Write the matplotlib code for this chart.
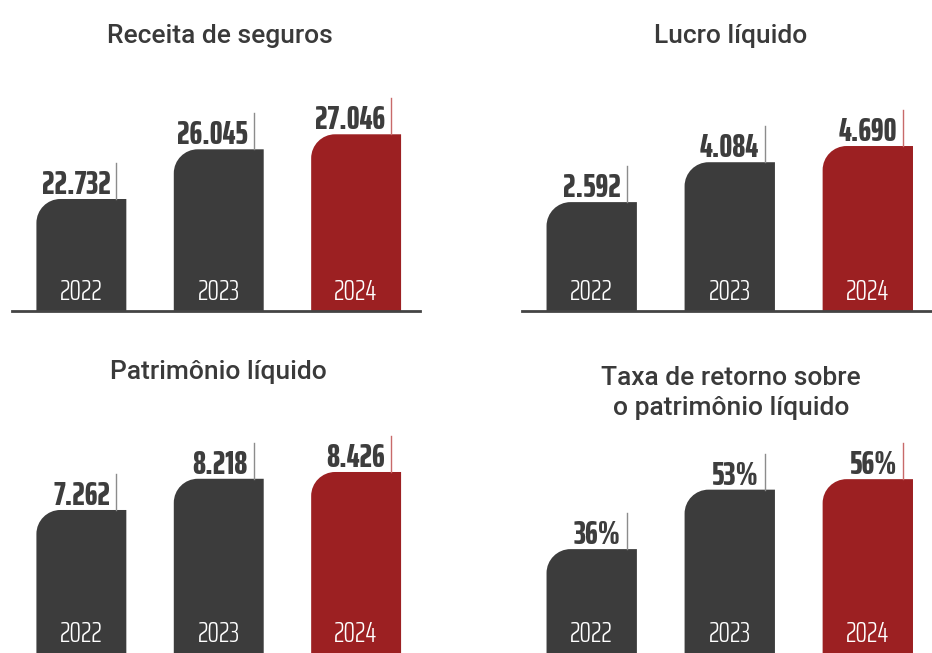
import numpy as np
import matplotlib
matplotlib.use('Agg')
from matplotlib import pyplot as plt
from matplotlib.path import Path
from matplotlib.patches import PathPatch

years = ['2022', '2023', '2024']
receita = [22732, 26045, 27046]
lucro = [2592, 4084, 4690]
patrimonio = [7262, 8218, 8426]
taxa = [36, 53, 56]

receita_labels = ['22.732', '26.045', '27.046']
lucro_labels = ['2.592', '4.084', '4.690']
patrimonio_labels = ['7.262', '8.218', '8.426']
taxa_labels = ['36%', '53%', '56%']

titles = ['Receita de seguros', 'Lucro líquido', 'Patrimônio líquido',
          'Taxa de retorno sobre\no patrimônio líquido']

W, H = 932, 653
DARK = '#3c3c3c'
RED = '#9c2022'
narrow = ['Saira ExtraCondensed', 'Barlow Condensed', 'DejaVu Sans']
title_font = ['Roboto', 'DejaVu Sans']

fig = plt.figure(figsize=(W / 100, H / 100), dpi=100)


def px_axes(left, right, base, top):
    return fig.add_axes([left / W, (H - base) / H, (right - left) / W, (base - top) / H])


def rounded_bar(ax, x0, x1, y0, y1, r, color):
    # only the top-left corner is rounded; radius given in pixels
    p0 = ax.transData.transform((0, 0))
    p1 = ax.transData.transform((1, 1))
    rx = r / (p1[0] - p0[0])
    ry = r / (p1[1] - p0[1])
    k = 0.5523
    verts = [(x0, y0), (x1, y0), (x1, y1), (x0 + rx, y1),
             (x0 + rx * (1 - k), y1), (x0, y1 - ry * (1 - k)), (x0, y1 - ry),
             (x0, y0), (x0, y0)]
    codes = [Path.MOVETO, Path.LINETO, Path.LINETO, Path.LINETO,
             Path.CURVE4, Path.CURVE4, Path.CURVE4, Path.LINETO, Path.CLOSEPOLY]
    ax.add_patch(PathPatch(Path(verts, codes), facecolor=color, edgecolor='none', zorder=2))
    return p1[1] - p0[1]


def panel(ax, values, labels, ylim, baseline=True):
    x = np.arange(len(values))
    bw = 90 / 137.5
    ax.set_xlim(-0.505, 2.465)
    ax.set_ylim(*ylim)
    for s in ['top', 'right', 'left', 'bottom']:
        ax.spines[s].set_visible(False)
    if baseline:
        ax.spines['bottom'].set_visible(True)
        ax.spines['bottom'].set_color('#444444')
        ax.spines['bottom'].set_linewidth(2)
    ax.set_xticks([])
    ax.set_yticks([])
    for i, v in enumerate(values):
        col = RED if i == len(values) - 1 else DARK
        x0, x1 = x[i] - bw / 2, x[i] + bw / 2
        pxy = rounded_bar(ax, x0, x1, ylim[0], v, 24, col)
        lx = x1 - 10 / 137.5
        lcol = '#c86a6a' if col == RED else '#8c8c8c'
        ax.plot([lx, lx], [v, v + 36 / pxy], color=lcol, lw=1, zorder=3, clip_on=False)
        ax.annotate(labels[i], (x1, v), xytext=(-16 * 0.72, 5 * 0.72),
                    textcoords='offset points', ha='right', va='baseline',
                    fontsize=23.5, fontweight=800, color='#3d3d3d',
                    family=narrow, annotation_clip=False)
        ax.annotate(years[i], (x[i], ylim[0]), xytext=(0, 19 * 0.72),
                    textcoords='offset points', ha='center', va='center',
                    fontsize=21, fontweight=300, color='white', family=narrow, zorder=4)


ax1 = px_axes(12, 420, 311, 70)
panel(ax1, receita, receita_labels, (15265, 31332))
ax2 = px_axes(522, 932, 311, 70)
panel(ax2, lucro, lucro_labels, (-1480, 7533))
ax3 = px_axes(12, 420, 653, 412)
panel(ax3, patrimonio, patrimonio_labels, (2880, 10264), baseline=False)
ax4 = px_axes(522, 932, 653, 412)
panel(ax4, taxa, taxa_labels, (6.3, 75.2), baseline=False)

title_pos = [(220, 36), (731, 36), (218, 372), (731, 393)]
for t, (tx, ty) in zip(titles, title_pos):
    fig.text(tx / W, 1 - ty / H, t, ha='center', va='center', fontsize=19,
             fontweight=500, color='#3a3a3a', family=title_font,
             linespacing=1.3)

fig.savefig('out.png', dpi=100)
